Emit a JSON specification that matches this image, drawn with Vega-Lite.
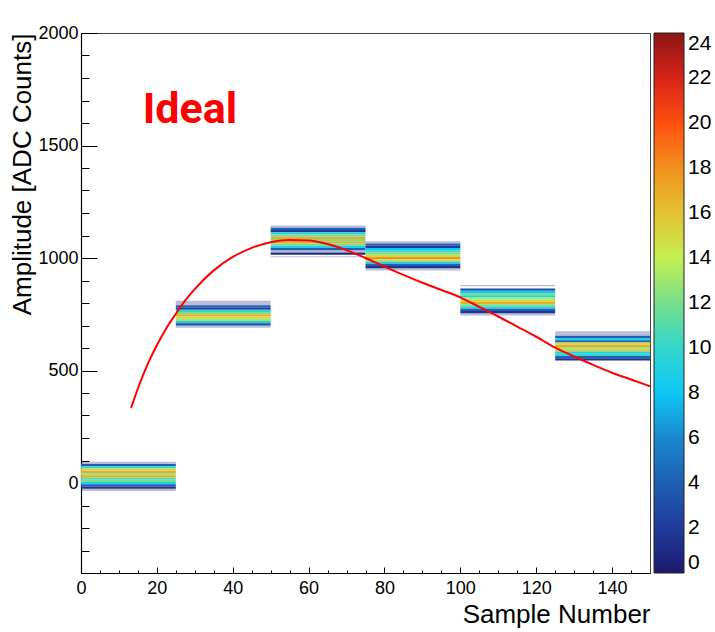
{
  "$schema": "https://vega.github.io/schema/vega-lite/v6.json",
  "width": 569,
  "height": 540,
  "autosize": {"type": "none"},
  "padding": {"left": 81, "top": 33, "right": 65, "bottom": 59},
  "background": "white",
  "config": {"view": {"stroke": "#444", "strokeWidth": 1}, "font": "Liberation Sans"},
  "datasets": {
    "hist": [
      {"x0": 0, "x1": 25, "y0": 85, "y1": 95, "n": 0.5},
      {"x0": 0, "x1": 25, "y0": 75, "y1": 85, "n": 4},
      {"x0": 0, "x1": 25, "y0": 65, "y1": 75, "n": 10},
      {"x0": 0, "x1": 25, "y0": 55, "y1": 65, "n": 15},
      {"x0": 0, "x1": 25, "y0": 45, "y1": 55, "n": 17},
      {"x0": 0, "x1": 25, "y0": 35, "y1": 45, "n": 13},
      {"x0": 0, "x1": 25, "y0": 25, "y1": 35, "n": 17},
      {"x0": 0, "x1": 25, "y0": 15, "y1": 25, "n": 11},
      {"x0": 0, "x1": 25, "y0": 5, "y1": 15, "n": 12},
      {"x0": 0, "x1": 25, "y0": -5, "y1": 5, "n": 9},
      {"x0": 0, "x1": 25, "y0": -15, "y1": -5, "n": 4},
      {"x0": 0, "x1": 25, "y0": -25, "y1": -15, "n": 1.5},
      {"x0": 0, "x1": 25, "y0": -35, "y1": -25, "n": 0.5},

      {"x0": 25, "x1": 50, "y0": 800, "y1": 810, "n": 0.5},
      {"x0": 25, "x1": 50, "y0": 790, "y1": 800, "n": 0.5},
      {"x0": 25, "x1": 50, "y0": 780, "y1": 790, "n": 4},
      {"x0": 25, "x1": 50, "y0": 770, "y1": 780, "n": 2},
      {"x0": 25, "x1": 50, "y0": 760, "y1": 770, "n": 10},
      {"x0": 25, "x1": 50, "y0": 750, "y1": 760, "n": 12},
      {"x0": 25, "x1": 50, "y0": 740, "y1": 750, "n": 17},
      {"x0": 25, "x1": 50, "y0": 730, "y1": 740, "n": 15},
      {"x0": 25, "x1": 50, "y0": 720, "y1": 730, "n": 13},
      {"x0": 25, "x1": 50, "y0": 710, "y1": 720, "n": 9},
      {"x0": 25, "x1": 50, "y0": 700, "y1": 710, "n": 3},
      {"x0": 25, "x1": 50, "y0": 690, "y1": 700, "n": 0.5},

      {"x0": 50, "x1": 75, "y0": 1135, "y1": 1145, "n": 0.5},
      {"x0": 50, "x1": 75, "y0": 1125, "y1": 1135, "n": 4},
      {"x0": 50, "x1": 75, "y0": 1115, "y1": 1125, "n": 2},
      {"x0": 50, "x1": 75, "y0": 1105, "y1": 1115, "n": 9},
      {"x0": 50, "x1": 75, "y0": 1095, "y1": 1105, "n": 12},
      {"x0": 50, "x1": 75, "y0": 1085, "y1": 1095, "n": 17},
      {"x0": 50, "x1": 75, "y0": 1075, "y1": 1085, "n": 12},
      {"x0": 50, "x1": 75, "y0": 1065, "y1": 1075, "n": 17},
      {"x0": 50, "x1": 75, "y0": 1055, "y1": 1065, "n": 12},
      {"x0": 50, "x1": 75, "y0": 1045, "y1": 1055, "n": 9},
      {"x0": 50, "x1": 75, "y0": 1035, "y1": 1045, "n": 4},
      {"x0": 50, "x1": 75, "y0": 1025, "y1": 1035, "n": 0.5},
      {"x0": 50, "x1": 75, "y0": 1015, "y1": 1025, "n": 1},
      {"x0": 50, "x1": 75, "y0": 1003, "y1": 1008, "n": 0.5},

      {"x0": 75, "x1": 100, "y0": 1065, "y1": 1075, "n": 0.5},
      {"x0": 75, "x1": 100, "y0": 1055, "y1": 1065, "n": 4},
      {"x0": 75, "x1": 100, "y0": 1045, "y1": 1055, "n": 2},
      {"x0": 75, "x1": 100, "y0": 1035, "y1": 1045, "n": 8},
      {"x0": 75, "x1": 100, "y0": 1025, "y1": 1035, "n": 10},
      {"x0": 75, "x1": 100, "y0": 1015, "y1": 1025, "n": 12},
      {"x0": 75, "x1": 100, "y0": 1005, "y1": 1015, "n": 15},
      {"x0": 75, "x1": 100, "y0": 995, "y1": 1005, "n": 18},
      {"x0": 75, "x1": 100, "y0": 985, "y1": 995, "n": 15},
      {"x0": 75, "x1": 100, "y0": 975, "y1": 985, "n": 9},
      {"x0": 75, "x1": 100, "y0": 965, "y1": 975, "n": 4},
      {"x0": 75, "x1": 100, "y0": 955, "y1": 965, "n": 1.5},
      {"x0": 75, "x1": 100, "y0": 945, "y1": 955, "n": 0.5},

      {"x0": 100, "x1": 125, "y0": 875, "y1": 880, "n": 0.5},
      {"x0": 100, "x1": 125, "y0": 855, "y1": 865, "n": 3},
      {"x0": 100, "x1": 125, "y0": 845, "y1": 855, "n": 8},
      {"x0": 100, "x1": 125, "y0": 835, "y1": 845, "n": 12},
      {"x0": 100, "x1": 125, "y0": 825, "y1": 835, "n": 9},
      {"x0": 100, "x1": 125, "y0": 815, "y1": 825, "n": 13},
      {"x0": 100, "x1": 125, "y0": 805, "y1": 815, "n": 15},
      {"x0": 100, "x1": 125, "y0": 795, "y1": 805, "n": 17},
      {"x0": 100, "x1": 125, "y0": 785, "y1": 795, "n": 12},
      {"x0": 100, "x1": 125, "y0": 775, "y1": 785, "n": 9},
      {"x0": 100, "x1": 125, "y0": 765, "y1": 775, "n": 4},
      {"x0": 100, "x1": 125, "y0": 755, "y1": 765, "n": 1.5},
      {"x0": 100, "x1": 125, "y0": 745, "y1": 755, "n": 0.5},

      {"x0": 125, "x1": 150, "y0": 665, "y1": 675, "n": 0.5},
      {"x0": 125, "x1": 150, "y0": 655, "y1": 665, "n": 0.5},
      {"x0": 125, "x1": 150, "y0": 645, "y1": 655, "n": 4},
      {"x0": 125, "x1": 150, "y0": 635, "y1": 645, "n": 9},
      {"x0": 125, "x1": 150, "y0": 625, "y1": 635, "n": 4},
      {"x0": 125, "x1": 150, "y0": 615, "y1": 625, "n": 15},
      {"x0": 125, "x1": 150, "y0": 605, "y1": 615, "n": 17},
      {"x0": 125, "x1": 150, "y0": 595, "y1": 605, "n": 13},
      {"x0": 125, "x1": 150, "y0": 585, "y1": 595, "n": 16},
      {"x0": 125, "x1": 150, "y0": 575, "y1": 585, "n": 9},
      {"x0": 125, "x1": 150, "y0": 565, "y1": 575, "n": 10},
      {"x0": 125, "x1": 150, "y0": 555, "y1": 565, "n": 4},
      {"x0": 125, "x1": 150, "y0": 545, "y1": 555, "n": 1.5}
    ],
    "fit": [
      {"x": 13.2, "y": 333}, {"x": 15, "y": 420}, {"x": 17.5, "y": 525}, {"x": 20, "y": 612},
      {"x": 22.5, "y": 688}, {"x": 25, "y": 752}, {"x": 27.5, "y": 812}, {"x": 30, "y": 862},
      {"x": 35, "y": 945}, {"x": 40, "y": 1005}, {"x": 45, "y": 1045}, {"x": 50, "y": 1070},
      {"x": 55, "y": 1080}, {"x": 60, "y": 1078}, {"x": 65, "y": 1062}, {"x": 70, "y": 1035},
      {"x": 75, "y": 1000}, {"x": 80, "y": 962}, {"x": 85, "y": 925}, {"x": 90, "y": 890},
      {"x": 95, "y": 858}, {"x": 100, "y": 825}, {"x": 105, "y": 783}, {"x": 110, "y": 740},
      {"x": 115, "y": 695}, {"x": 120, "y": 650}, {"x": 125, "y": 602}, {"x": 130, "y": 563},
      {"x": 135, "y": 525}, {"x": 140, "y": 490}, {"x": 145, "y": 460}, {"x": 150, "y": 430}
    ],
    "label": [{"x": 28.7, "y": 1600, "text": "Ideal"}]
  },
  "resolve": {"axis": {"x": "independent", "y": "independent"}},
  "layer": [
    {
      "data": {"name": "hist"},
      "mark": {"type": "rect"},
      "encoding": {
        "x": {
          "field": "x0", "type": "quantitative",
          "scale": {"domain": [0, 150], "nice": false, "zero": false},
          "axis": {
            "orient": "bottom",
            "title": "Sample Number", "titleAnchor": "end", "titleFontSize": 26,
            "titleFontWeight": "normal", "titleColor": "black", "titlePadding": 4,
            "titleFont": "Liberation Sans",
            "values": [0, 20, 40, 60, 80, 100, 120, 140],
            "format": "d", "labelFontSize": 18, "labelColor": "black", "labelFont": "Liberation Sans",
            "labelPadding": 12, "labelOverlap": false, "labelFlush": false, "labelBound": false,
            "tickSize": -6,
            "tickColor": "black", "domainColor": "black", "domainWidth": 1.2, "grid": false
          }
        },
        "x2": {"field": "x1"},
        "y": {
          "field": "y0", "type": "quantitative",
          "scale": {"domain": [-400, 2000], "nice": false, "zero": false},
          "axis": {
            "orient": "left",
            "title": "Amplitude [ADC Counts]", "titleAnchor": "end", "titleFontSize": 26,
            "titleFontWeight": "normal", "titleColor": "black", "titlePadding": 2,
            "titleFont": "Liberation Sans",
            "values": [0, 500, 1000, 1500, 2000],
            "format": "d", "labelFontSize": 18, "labelColor": "black", "labelFont": "Liberation Sans",
            "labelPadding": 19, "labelOverlap": false, "labelFlush": false, "labelBound": false,
            "tickSize": -16,
            "tickColor": "black", "domainColor": "black", "domainWidth": 1.2, "grid": false
          }
        },
        "y2": {"field": "y1"},
        "color": {
          "field": "n", "type": "quantitative",
          "scale": {
            "type": "linear",
            "domain": [0, 2, 4, 6, 8, 10, 12, 14, 16, 18, 20, 22, 24],
            "range": ["#1d1a6e", "#1f3b99", "#1f5fb4", "#1988cf", "#0fc6f7", "#34d6cc", "#76df8c", "#c4f050", "#e3c233", "#f2911f", "#ff4e10", "#d82418", "#8a1515"],
            "interpolate": "rgb", "clamp": true
          },
          "legend": {
            "orient": "right", "offset": 4, "padding": 0, "title": null,
            "direction": "vertical",
            "gradientLength": 540, "gradientThickness": 30,
            "gradientStrokeColor": "#222", "gradientStrokeWidth": 1,
            "values": [0, 2, 4, 6, 8, 10, 12, 14, 16, 18, 20, 22, 24],
            "labelFontSize": 21, "labelOffset": 4, "labelColor": "black",
            "labelFont": "Liberation Sans", "labelOverlap": false,
            "labelBaseline": "middle"
          }
        },
        "opacity": {"condition": {"test": "datum.n < 1", "value": 0.3}, "value": 1}
      }
    },
    {
      "data": {"name": "fit"},
      "mark": {"type": "line", "color": "#ff0000", "strokeWidth": 2, "interpolate": "monotone"},
      "encoding": {
        "x": {
          "field": "x", "type": "quantitative",
          "axis": {
            "orient": "bottom", "title": null, "labels": false, "domain": false, "grid": false,
            "values": [5, 10, 15, 25, 30, 35, 45, 50, 55, 65, 70, 75, 85, 90, 95, 105, 110, 115, 125, 130, 135, 145],
            "tickSize": -3, "tickColor": "black"
          }
        },
        "y": {
          "field": "y", "type": "quantitative",
          "axis": {
            "orient": "left", "title": null, "labels": false, "domain": false, "grid": false,
            "values": [-300, -200, -100, 100, 200, 300, 400, 600, 700, 800, 900, 1100, 1200, 1300, 1400, 1600, 1700, 1800, 1900],
            "tickSize": -8, "tickColor": "black"
          }
        }
      }
    },
    {
      "data": {"name": "label"},
      "mark": {"type": "text", "color": "#ff0000", "font": "Roboto", "fontWeight": "bold", "fontSize": 43, "align": "center", "baseline": "alphabetic"},
      "encoding": {
        "x": {"field": "x", "type": "quantitative", "axis": null},
        "y": {"field": "y", "type": "quantitative", "axis": null},
        "text": {"field": "text"}
      }
    }
  ]
}
